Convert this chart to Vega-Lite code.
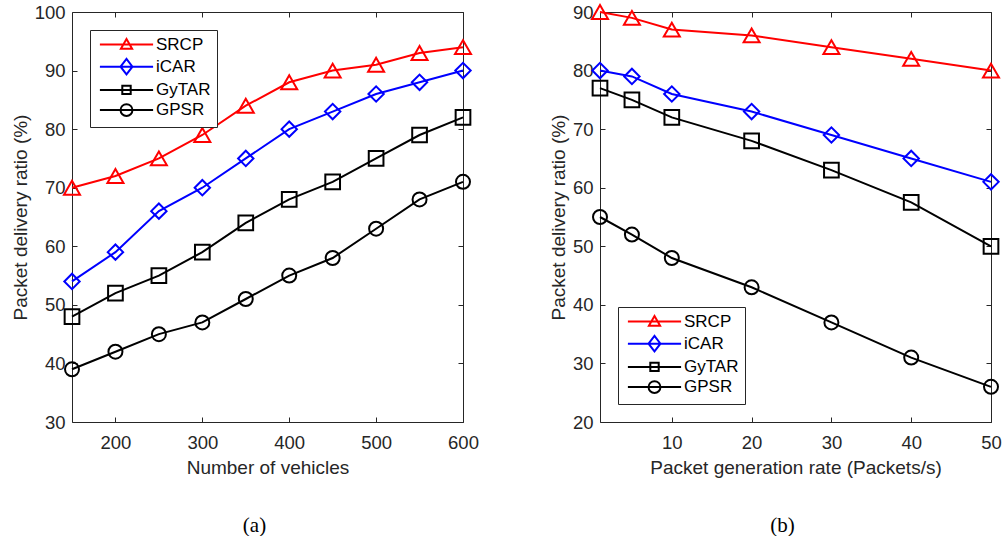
{
  "$schema": "https://vega.github.io/schema/vega-lite/v6.json",
  "padding": {"left": 10, "top": 0, "right": 3, "bottom": 0},
  "background": "white",
  "spacing": 69,
  "datasets": {
    "a": [
      {"vehicles": 150, "protocol": "SRCP", "pdr": 70}, {"vehicles": 200, "protocol": "SRCP", "pdr": 72}, {"vehicles": 250, "protocol": "SRCP", "pdr": 75}, {"vehicles": 300, "protocol": "SRCP", "pdr": 79}, {"vehicles": 350, "protocol": "SRCP", "pdr": 84}, {"vehicles": 400, "protocol": "SRCP", "pdr": 88}, {"vehicles": 450, "protocol": "SRCP", "pdr": 90}, {"vehicles": 500, "protocol": "SRCP", "pdr": 91}, {"vehicles": 550, "protocol": "SRCP", "pdr": 93}, {"vehicles": 600, "protocol": "SRCP", "pdr": 94},
      {"vehicles": 150, "protocol": "iCAR", "pdr": 54}, {"vehicles": 200, "protocol": "iCAR", "pdr": 59}, {"vehicles": 250, "protocol": "iCAR", "pdr": 66}, {"vehicles": 300, "protocol": "iCAR", "pdr": 70}, {"vehicles": 350, "protocol": "iCAR", "pdr": 75}, {"vehicles": 400, "protocol": "iCAR", "pdr": 80}, {"vehicles": 450, "protocol": "iCAR", "pdr": 83}, {"vehicles": 500, "protocol": "iCAR", "pdr": 86}, {"vehicles": 550, "protocol": "iCAR", "pdr": 88}, {"vehicles": 600, "protocol": "iCAR", "pdr": 90},
      {"vehicles": 150, "protocol": "GyTAR", "pdr": 48}, {"vehicles": 200, "protocol": "GyTAR", "pdr": 52}, {"vehicles": 250, "protocol": "GyTAR", "pdr": 55}, {"vehicles": 300, "protocol": "GyTAR", "pdr": 59}, {"vehicles": 350, "protocol": "GyTAR", "pdr": 64}, {"vehicles": 400, "protocol": "GyTAR", "pdr": 68}, {"vehicles": 450, "protocol": "GyTAR", "pdr": 71}, {"vehicles": 500, "protocol": "GyTAR", "pdr": 75}, {"vehicles": 550, "protocol": "GyTAR", "pdr": 79}, {"vehicles": 600, "protocol": "GyTAR", "pdr": 82},
      {"vehicles": 150, "protocol": "GPSR", "pdr": 39}, {"vehicles": 200, "protocol": "GPSR", "pdr": 42}, {"vehicles": 250, "protocol": "GPSR", "pdr": 45}, {"vehicles": 300, "protocol": "GPSR", "pdr": 47}, {"vehicles": 350, "protocol": "GPSR", "pdr": 51}, {"vehicles": 400, "protocol": "GPSR", "pdr": 55}, {"vehicles": 450, "protocol": "GPSR", "pdr": 58}, {"vehicles": 500, "protocol": "GPSR", "pdr": 63}, {"vehicles": 550, "protocol": "GPSR", "pdr": 68}, {"vehicles": 600, "protocol": "GPSR", "pdr": 71}
    ],
    "b": [
      {"rate": 1, "protocol": "SRCP", "pdr": 90}, {"rate": 5, "protocol": "SRCP", "pdr": 89}, {"rate": 10, "protocol": "SRCP", "pdr": 87}, {"rate": 20, "protocol": "SRCP", "pdr": 86}, {"rate": 30, "protocol": "SRCP", "pdr": 84}, {"rate": 40, "protocol": "SRCP", "pdr": 82}, {"rate": 50, "protocol": "SRCP", "pdr": 80},
      {"rate": 1, "protocol": "iCAR", "pdr": 80}, {"rate": 5, "protocol": "iCAR", "pdr": 79}, {"rate": 10, "protocol": "iCAR", "pdr": 76}, {"rate": 20, "protocol": "iCAR", "pdr": 73}, {"rate": 30, "protocol": "iCAR", "pdr": 69}, {"rate": 40, "protocol": "iCAR", "pdr": 65}, {"rate": 50, "protocol": "iCAR", "pdr": 61},
      {"rate": 1, "protocol": "GyTAR", "pdr": 77}, {"rate": 5, "protocol": "GyTAR", "pdr": 75}, {"rate": 10, "protocol": "GyTAR", "pdr": 72}, {"rate": 20, "protocol": "GyTAR", "pdr": 68}, {"rate": 30, "protocol": "GyTAR", "pdr": 63}, {"rate": 40, "protocol": "GyTAR", "pdr": 57.5}, {"rate": 50, "protocol": "GyTAR", "pdr": 50},
      {"rate": 1, "protocol": "GPSR", "pdr": 55}, {"rate": 5, "protocol": "GPSR", "pdr": 52}, {"rate": 10, "protocol": "GPSR", "pdr": 48}, {"rate": 20, "protocol": "GPSR", "pdr": 43}, {"rate": 30, "protocol": "GPSR", "pdr": 37}, {"rate": 40, "protocol": "GPSR", "pdr": 31}, {"rate": 50, "protocol": "GPSR", "pdr": 26}
    ]
  },
  "config": {
    "view": {"stroke": "#262626", "strokeWidth": 1},
    "axis": {
      "labelFont": "Liberation Sans", "labelFontSize": 18.5, "labelColor": "#262626",
      "titleFont": "Liberation Sans", "titleFontSize": 19, "titleFontWeight": "normal", "titleColor": "#262626",
      "tickColor": "#262626", "tickSize": -5, "tickWidth": 1, "grid": false, "domain": false, "labelFlush": false, "labelPadding": 12
    },
    "title": {"font": "Liberation Serif", "fontSize": 21, "fontWeight": "normal", "color": "#000000", "orient": "bottom", "anchor": "middle", "offset": 37, "dx": -13},
    "legend": {
      "title": null, "offset": 18, "strokeColor": "#262626", "fillColor": "white", "padding": 6,
      "labelFont": "Liberation Sans", "labelFontSize": 17, "labelColor": "#000000",
      "symbolSize": 196, "symbolStrokeWidth": 2, "rowPadding": 1.2, "labelOffset": 21, "symbolOffset": 22,
      "labelLimit": 200
    }
  },
  "hconcat": [
    {
      "width": 391, "height": 410,
      "title": {"text": "(a)"},
      "data": {"name": "a"},
      "layer": [
        {
          "mark": {"type": "line", "strokeWidth": 2},
          "encoding": {
            "x": {"field": "vehicles", "type": "quantitative", "scale": {"domain": [150, 600], "nice": false, "zero": false}, "axis": {"orient": "bottom", "title": "Number of vehicles", "values": [200, 300, 400, 500, 600], "labelPadding": 16, "titlePadding": 7}},
            "y": {"field": "pdr", "type": "quantitative", "scale": {"domain": [30, 100], "nice": false, "zero": false}, "axis": {"orient": "left", "title": "Packet delivery ratio (%)", "values": [30, 40, 50, 60, 70, 80, 90, 100], "titlePadding": 4}},
            "color": {"field": "protocol", "type": "nominal", "sort": ["SRCP", "iCAR", "GyTAR", "GPSR"], "scale": {"domain": ["SRCP", "iCAR", "GyTAR", "GPSR"], "range": ["#ff0000", "#0000ff", "#000000", "#000000"]},
              "legend": {"orient": "top-left", "encode": {"symbols": {"update": {"fill": {"value": "transparent"}, "size": {"value": 196}, "strokeWidth": {"value": 2}, "shape": {"signal": "datum.value === 'SRCP' ? 'M-3.8,0H3.8M0,-0.8L0.8,0.6H-0.8Z' : datum.value === 'iCAR' ? 'M-3.8,0H3.8M-0.85,0L0,-1.1L0.85,0L0,1.1Z' : datum.value === 'GyTAR' ? 'M-3.8,0H3.8M-0.6,-0.6H0.6V0.6H-0.6Z' : 'M-3.8,0H3.8M0.85,0A0.85,0.85,0,1,1,-0.85,0A0.85,0.85,0,1,1,0.85,0Z'"}}}}}
            },
            "detail": {"field": "protocol"}
          }
        },
        {
          "mark": {"type": "point", "filled": false, "strokeWidth": 2, "opacity": 1},
          "encoding": {
            "x": {"field": "vehicles", "type": "quantitative", "axis": null},
            "y": {"field": "pdr", "type": "quantitative", "axis": null},
            "color": {"field": "protocol", "type": "nominal", "legend": null},
            "shape": {"field": "protocol", "type": "nominal", "scale": {"domain": ["SRCP", "iCAR", "GyTAR", "GPSR"], "range": ["triangle-up", "diamond", "square", "circle"]}, "legend": null},
            "size": {"field": "protocol", "type": "nominal", "scale": {"domain": ["SRCP", "iCAR", "GyTAR", "GPSR"], "range": [256, 196, 144, 196]}, "legend": null}
          }
        },
        {
          "mark": {"type": "point", "opacity": 0},
          "encoding": {
            "x": {"field": "vehicles", "type": "quantitative", "axis": {"orient": "top", "labels": false, "title": null, "values": [200, 300, 400, 500, 600]}},
            "y": {"field": "pdr", "type": "quantitative", "axis": {"orient": "right", "labels": false, "title": null, "values": [30, 40, 50, 60, 70, 80, 90, 100]}}
          }
        }
      ]
    },
    {
      "width": 391, "height": 410,
      "title": {"text": "(b)"},
      "data": {"name": "b"},
      "layer": [
        {
          "mark": {"type": "line", "strokeWidth": 2},
          "encoding": {
            "x": {"field": "rate", "type": "quantitative", "scale": {"domain": [1, 50], "nice": false, "zero": false}, "axis": {"orient": "bottom", "title": "Packet generation rate (Packets/s)", "values": [10, 20, 30, 40, 50], "labelPadding": 16, "titlePadding": 7}},
            "y": {"field": "pdr", "type": "quantitative", "scale": {"domain": [20, 90], "nice": false, "zero": false}, "axis": {"orient": "left", "title": "Packet delivery ratio (%)", "values": [20, 30, 40, 50, 60, 70, 80, 90], "titlePadding": 4}},
            "color": {"field": "protocol", "type": "nominal", "sort": ["SRCP", "iCAR", "GyTAR", "GPSR"], "scale": {"domain": ["SRCP", "iCAR", "GyTAR", "GPSR"], "range": ["#ff0000", "#0000ff", "#000000", "#000000"]},
              "legend": {"orient": "bottom-left", "encode": {"symbols": {"update": {"fill": {"value": "transparent"}, "size": {"value": 196}, "strokeWidth": {"value": 2}, "shape": {"signal": "datum.value === 'SRCP' ? 'M-3.8,0H3.8M0,-0.8L0.8,0.6H-0.8Z' : datum.value === 'iCAR' ? 'M-3.8,0H3.8M-0.85,0L0,-1.1L0.85,0L0,1.1Z' : datum.value === 'GyTAR' ? 'M-3.8,0H3.8M-0.6,-0.6H0.6V0.6H-0.6Z' : 'M-3.8,0H3.8M0.85,0A0.85,0.85,0,1,1,-0.85,0A0.85,0.85,0,1,1,0.85,0Z'"}}}}}
            },
            "detail": {"field": "protocol"}
          }
        },
        {
          "mark": {"type": "point", "filled": false, "strokeWidth": 2, "opacity": 1},
          "encoding": {
            "x": {"field": "rate", "type": "quantitative", "axis": null},
            "y": {"field": "pdr", "type": "quantitative", "axis": null},
            "color": {"field": "protocol", "type": "nominal", "legend": null},
            "shape": {"field": "protocol", "type": "nominal", "scale": {"domain": ["SRCP", "iCAR", "GyTAR", "GPSR"], "range": ["triangle-up", "diamond", "square", "circle"]}, "legend": null},
            "size": {"field": "protocol", "type": "nominal", "scale": {"domain": ["SRCP", "iCAR", "GyTAR", "GPSR"], "range": [256, 196, 144, 196]}, "legend": null}
          }
        },
        {
          "mark": {"type": "point", "opacity": 0},
          "encoding": {
            "x": {"field": "rate", "type": "quantitative", "axis": {"orient": "top", "labels": false, "title": null, "values": [10, 20, 30, 40, 50]}},
            "y": {"field": "pdr", "type": "quantitative", "axis": {"orient": "right", "labels": false, "title": null, "values": [20, 30, 40, 50, 60, 70, 80, 90]}}
          }
        }
      ]
    }
  ]
}
